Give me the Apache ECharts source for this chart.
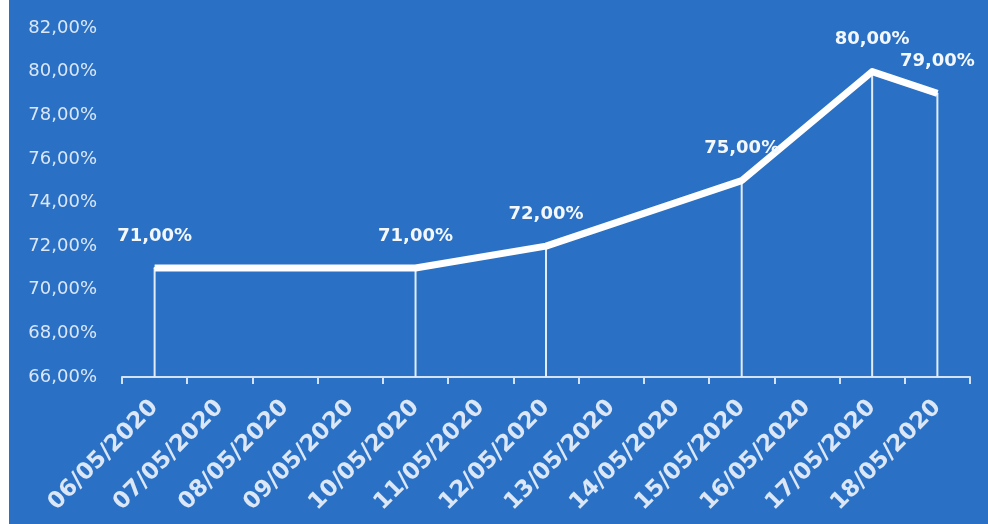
<!DOCTYPE html>
<html>
<head>
<meta charset="utf-8">
<title>Taxa diária</title>
<script src="https://cdn.jsdelivr.net/npm/echarts@6/dist/echarts.min.js"></script>
<style>
  html, body { margin: 0; padding: 0; background: #ffffff; }
  #chart { position: absolute; left: 9px; top: 0; width: 979px; height: 524px; background: #2a71c5; }
</style>
</head>
<body>
<div id="chart"></div>
<script>
// Dates shown on the category axis
const dates = [
  '06/05/2020', '07/05/2020', '08/05/2020', '09/05/2020', '10/05/2020',
  '11/05/2020', '12/05/2020', '13/05/2020', '14/05/2020', '15/05/2020',
  '16/05/2020', '17/05/2020', '18/05/2020'
];
// Percentages recorded on each date (null = no reading that day)
const rates = [71, null, null, null, 71, null, 72, null, null, 75, null, 80, 79];
// Value axis range
const yMin = 66;
const yMax = 82;
const yStep = 2;

const pct = v => v.toFixed(2).replace('.', ',') + '%';

const chart = echarts.init(document.getElementById('chart'));
chart.setOption({
  animation: false,
  backgroundColor: '#2a71c5',
  grid: { left: 113, right: 18, top: 28, bottom: 147 },
  xAxis: {
    type: 'category',
    data: dates,
    boundaryGap: true,
    axisLine: { lineStyle: { color: '#d3e2f4', width: 2 } },
    axisTick: { show: true, length: 7, lineStyle: { color: '#d3e2f4', width: 2 } },
    axisLabel: {
      rotate: 45,
      interval: 0,
      margin: 27,
      color: '#dbe7f6',
      fontFamily: 'DejaVu Sans',
      fontWeight: 'bold',
      fontSize: 23
    }
  },
  yAxis: {
    type: 'value',
    min: yMin,
    max: yMax,
    interval: yStep,
    axisLine: { show: false },
    axisTick: { show: false },
    splitLine: { show: false },
    axisLabel: {
      margin: 25,
      color: '#dbe7f6',
      fontFamily: 'DejaVu Sans',
      fontSize: 18,
      formatter: pct
    }
  },
  series: [
    {
      // thin drop lines from each reading down to the axis
      type: 'bar',
      data: rates,
      barWidth: 2,
      itemStyle: { color: '#e2ecf8' },
      silent: true,
      z: 1
    },
    {
      type: 'line',
      data: rates,
      connectNulls: true,
      smooth: false,
      symbol: 'circle',
      symbolSize: 2,
      itemStyle: { color: '#ffffff' },
      lineStyle: { color: '#ffffff', width: 7, join: 'round', cap: 'butt' },
      label: {
        show: true,
        position: 'top',
        distance: 22,
        color: '#f4f8fd',
        fontFamily: 'DejaVu Sans',
        fontWeight: 'bold',
        fontSize: 18,
        formatter: p => (p.value == null ? '' : pct(p.value))
      },
      z: 3
    }
  ]
});
</script>
</body>
</html>
